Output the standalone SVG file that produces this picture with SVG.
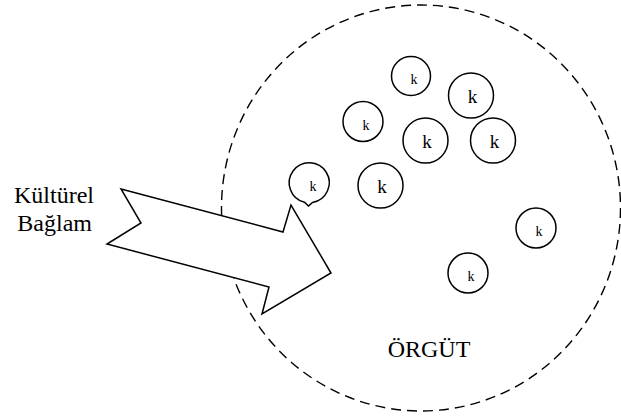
<svg xmlns="http://www.w3.org/2000/svg" width="621" height="419" viewBox="0 0 621 419">
  <style>
    .org { fill: none; stroke: #000; stroke-width: 1.4; stroke-dasharray: 10 6; }
    .member { fill: #fff; stroke: #000; stroke-width: 1.5; }
    .arrow { fill: #fff; stroke: #000; stroke-width: 1.5; stroke-linejoin: miter; }
    .label { font-family: "Liberation Serif", "Times New Roman", serif; font-size: 24px; fill: #000; }
    .k-s { font-family: "Liberation Serif", "Times New Roman", serif; font-size: 14px; fill: #000; text-anchor: middle; }
    .k-l { font-family: "Liberation Serif", "Times New Roman", serif; font-size: 19px; fill: #000; text-anchor: middle; }
  </style>

  <rect width="621" height="419" fill="#fff"/>

  <!-- organisation boundary -->
  <g id="orgut">
    <ellipse class="org" cx="421" cy="208" rx="199.5" ry="203"/>
    <text class="label" x="429" y="357" text-anchor="middle">ÖRGÜT</text>
  </g>

  <!-- members -->
  <g id="k1"><circle class="member" cx="411" cy="76" r="19.5"/><text class="k-s" x="414" y="84">k</text></g>
  <g id="k2"><circle class="member" cx="471" cy="95.5" r="22.5"/><text class="k-l" x="472.5" y="103">k</text></g>
  <g id="k3"><circle class="member" cx="363" cy="121.5" r="20"/><text class="k-s" x="366" y="130">k</text></g>
  <g id="k4"><circle class="member" cx="425.5" cy="140.5" r="22.5"/><text class="k-l" x="427" y="148">k</text></g>
  <g id="k5"><circle class="member" cx="493" cy="140.5" r="22.5"/><text class="k-l" x="494.5" y="148">k</text></g>
  <g id="k6">
    <path class="member" d="M304.5,202.2 A20,20 0 1 1 312.5,202.5 L308.5,206 Z"/>
    <text class="k-s" x="313" y="191">k</text>
  </g>
  <g id="k7"><circle class="member" cx="380.5" cy="185.5" r="22.5"/><text class="k-l" x="382" y="193">k</text></g>
  <g id="k8"><circle class="member" cx="536" cy="228" r="20"/><text class="k-s" x="539" y="236">k</text></g>
  <g id="k9"><circle class="member" cx="468" cy="273" r="20"/><text class="k-s" x="471" y="281">k</text></g>

  <!-- cultural context arrow -->
  <g id="kulturel-baglam">
    <path class="arrow" d="M121,189 L283,232 L291,205 L331,273 L262,314 L269,287 L107,244 L141,223 Z"/>
    <text class="label" x="94" y="203" text-anchor="end">Kültürel</text>
    <text class="label" x="92" y="231" text-anchor="end">Bağlam</text>
  </g>
</svg>
